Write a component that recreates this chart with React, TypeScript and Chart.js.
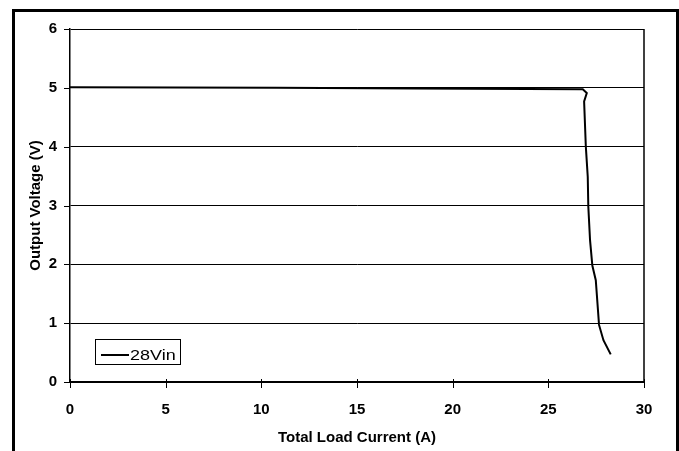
import React, { useEffect, useRef } from "react";
import { Chart, registerables } from "chart.js";

Chart.register(...registerables);

const currentA: number[] = [0, 10.8, 18.0, 26.8, 27.01, 26.87, 26.96, 27.06, 27.09, 27.18, 27.3, 27.48, 27.65, 27.88, 28.26];
const voltageV: number[] = [5.01, 5.0, 4.99, 4.975, 4.91, 4.77, 4.0, 3.49, 2.98, 2.41, 1.98, 1.73, 0.97, 0.71, 0.47];
const seriesName = "28Vin";
const xTitle = "Total Load Current (A)";
const yTitle = "Output Voltage (V)";
const xTicks: number[] = [0, 5, 10, 15, 20, 25, 30];
const yTicks: number[] = [0, 1, 2, 3, 4, 5, 6];

const FONT = "'Liberation Sans', Arial, sans-serif";

const decorPlugin = {
  id: "decor",
  beforeDraw(chart: any) {
    const ctx = chart.ctx;
    ctx.save();
    ctx.fillStyle = "#ffffff";
    ctx.fillRect(0, 0, chart.width, chart.height);
    ctx.fillStyle = "#000000";
    ctx.fillRect(12, 9, 3, chart.height - 9);
    ctx.fillRect(12, 9, chart.width - 12, 3);
    ctx.fillRect(676, 9, 3, chart.height - 9);
    ctx.restore();
  },
  afterDraw(chart: any) {
    const ctx = chart.ctx;
    const { left, right, top, bottom } = chart.chartArea;
    const xs = chart.scales.x;
    const ys = chart.scales.y;
    ctx.save();
    ctx.strokeStyle = "#000";
    ctx.lineWidth = 1.5;
    ctx.beginPath();
    ctx.moveTo(right, top);
    ctx.lineTo(right, bottom + 1);
    ctx.stroke();
    ctx.lineWidth = 1;
    xTicks.forEach((t) => {
      const px = Math.round(xs.getPixelForValue(t)) + 0.5;
      ctx.beginPath();
      ctx.moveTo(px, bottom - 3);
      ctx.lineTo(px, bottom + 6);
      ctx.stroke();
    });
    yTicks.forEach((t) => {
      const py = Math.round(ys.getPixelForValue(t)) + 0.5;
      ctx.beginPath();
      ctx.moveTo(left - 6, py);
      ctx.lineTo(left, py);
      ctx.stroke();
    });
    // legend
    ctx.fillStyle = "#fff";
    ctx.fillRect(95, 339, 85, 25);
    ctx.strokeStyle = "#000";
    ctx.lineWidth = 1;
    ctx.strokeRect(95.5, 339.5, 85, 25);
    ctx.lineWidth = 2;
    ctx.beginPath();
    ctx.moveTo(101, 355);
    ctx.lineTo(129, 355);
    ctx.stroke();
    ctx.fillStyle = "#000";
    ctx.font = "15px " + FONT;
    ctx.textBaseline = "alphabetic";
    ctx.textAlign = "left";
    ctx.translate(130, 359.5);
    ctx.scale(1.2, 1);
    ctx.fillText(seriesName, 0, 0);
    ctx.restore();
  },
};

export default function App() {
  const ref = useRef<HTMLCanvasElement | null>(null);
  useEffect(() => {
    if (!ref.current) return;
    const chart = new Chart(ref.current, {
      type: "scatter",
      data: {
        datasets: [
          {
            label: seriesName,
            data: currentA.map((x, i) => ({ x, y: voltageV[i] })),
            showLine: true,
            borderColor: "#000",
            backgroundColor: "#000",
            borderWidth: 2,
            pointRadius: 0,
            tension: 0,
          },
        ],
      },
      options: {
        responsive: false,
        animation: false,
        devicePixelRatio: 1,
        layout: { padding: { left: 20, right: 35, top: 29, bottom: 0 } },
        plugins: { legend: { display: false }, tooltip: { enabled: false } },
        scales: {
          x: {
            type: "linear",
            min: 0,
            max: 30,
            afterFit: (s: any) => {
              s.height = 69;
            },
            afterBuildTicks: (s: any) => {
              s.ticks = xTicks.map((v) => ({ value: v }));
            },
            ticks: {
              color: "#000",
              padding: 19,
              font: { family: FONT, size: 15, weight: "bold" },
            },
            grid: { display: false, drawTicks: false },
            border: { display: true, color: "#000", width: 1.5 },
            title: {
              display: true,
              text: xTitle,
              color: "#000",
              font: { family: FONT, size: 15, weight: "bold" },
              padding: { top: 4, bottom: 4 },
            },
          },
          y: {
            type: "linear",
            min: 0,
            max: 6,
            afterFit: (s: any) => {
              s.width = 50;
            },
            afterBuildTicks: (s: any) => {
              s.ticks = yTicks.map((v) => ({ value: v }));
            },
            ticks: {
              color: "#000",
              padding: 13,
              font: { family: FONT, size: 15, weight: "bold" },
            },
            grid: { color: "#000", lineWidth: 1, drawTicks: false },
            border: { display: true, color: "#000", width: 1.5 },
            title: {
              display: true,
              text: yTitle,
              color: "#000",
              font: { family: FONT, size: 15, weight: "bold" },
              padding: { top: 7, bottom: 4 },
            },
          },
        },
      },
      plugins: [decorPlugin],
    });
    return () => chart.destroy();
  }, []);
  return (
    <div style={{ position: "absolute", left: 0, top: 0, width: 679, height: 451, overflow: "hidden" }}>
      <canvas ref={ref} width={679} height={451} style={{ display: "block", width: 679, height: 451 }} />
    </div>
  );
}
